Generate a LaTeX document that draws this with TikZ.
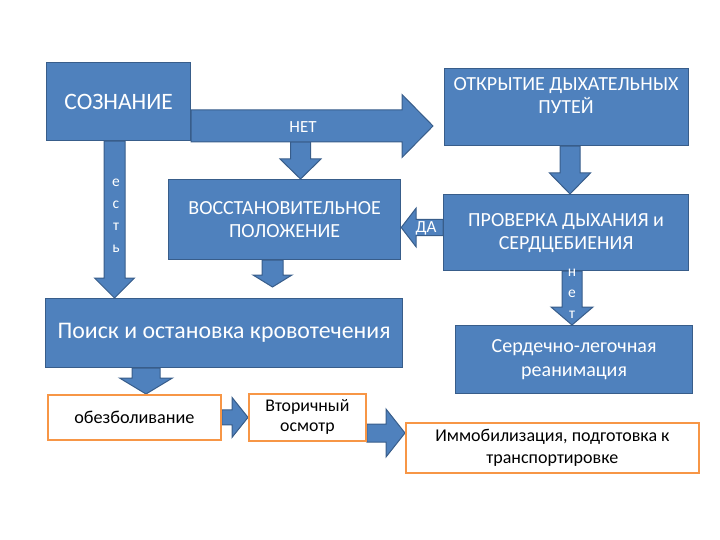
\documentclass[tikz,border=0pt]{standalone}
\usepackage{fontspec}
\setmainfont{Carlito}
\usetikzlibrary{calc,backgrounds}
\definecolor{bfill}{HTML}{4F81BD}
\definecolor{bline}{HTML}{385D8A}
\definecolor{oline}{HTML}{F79646}
\newcommand\fsz[2]{\fontsize{#1}{#2}\selectfont}
% block arrow: [opts]{start}{end}{shaft half}{head half}{head length}
\newcommand\blockarr[6][]{%
  \coordinate (bab) at ($(#3)!#6!(#2)$);
  \draw[barrow,#1] ($(#2)!#4!90:(#3)$) -- ($(bab)!#4!90:(#3)$) -- ($(bab)!#5!90:(#3)$) -- (#3)
     -- ($(bab)!#5!-90:(#3)$) -- ($(bab)!#4!-90:(#3)$) -- ($(#2)!#4!-90:(#3)$) -- cycle;}
\begin{document}
\begin{tikzpicture}[x=1pt,y=-1pt,
  bbox/.style={draw=bline, line width=1.2pt, fill=bfill, text=white, anchor=north west, inner sep=0pt, align=center},
  wbox/.style={draw=oline, line width=1.8pt, fill=white, text=black, anchor=north west, inner sep=0pt, align=center},
  barrow/.style={draw=bline, line width=1pt, fill=bfill, line join=miter},
  wlab/.style={text=white, inner sep=0pt, align=center}]
\useasboundingbox (0,0) rectangle (720,540);
% boxes
\node[bbox, minimum width=144, minimum height=78, font=\fsz{23.5}{26}] (soz) at (46,62) {СОЗНАНИЕ};
\node[bbox, minimum width=244, minimum height=77] (otk) at (444,68) {};
\node[wlab, font=\fsz{20}{23}] (otkT) at (566,95.5) {ОТКРЫТИЕ ДЫХАТЕЛЬНЫХ\\ПУТЕЙ};
\node[bbox, minimum width=232, minimum height=80, font=\fsz{20}{23}] (vos) at (168,179) {ВОССТАНОВИТЕЛЬНОЕ\\ПОЛОЖЕНИЕ};
\node[bbox, minimum width=245, minimum height=76, font=\fsz{20}{23}] (prov) at (443,194) {ПРОВЕРКА ДЫХАНИЯ и\\СЕРДЦЕБИЕНИЯ};
\node[bbox, minimum width=357, minimum height=69, font=\fsz{23.8}{26}] (poisk) at (45,298) {Поиск и остановка кровотечения};
\node[bbox, minimum width=237, minimum height=68, font=\fsz{20}{24}] (serd) at (455,325) {Сердечно-легочная\\реанимация};
\node[wbox, minimum width=173, minimum height=45, font=\fsz{18.2}{20}] (obez) at (47,394) {обезболивание};
\node[wbox, minimum width=117, minimum height=47, font=\fsz{17.8}{20}] (vtor) at (248,393) {Вторичный\\осмотр};
\node[wbox, minimum width=293, minimum height=50, font=\fsz{18}{22}] (immob) at (405,422) {Иммобилизация, подготовка к\\транспортировке};
% helper coordinates
\coordinate (xEst) at (114.5,0);
\coordinate (xNetD) at (300.5,0);
\coordinate (xOtk) at (570,0);
\coordinate (xVos) at (272.5,0);
\coordinate (xNetS) at (572,0);
\coordinate (xPoisk) at (146,0);
\coordinate (yNet) at (0,126);
\coordinate (yDa) at (0,227.5);
\coordinate (yV) at (0,433);
\coordinate (netTip) at (433,126);
\coordinate (netDs) at (300.5,142);
\coordinate (vosTip) at (272.5,287);
\begin{pgfonlayer}{background}
\coordinate (a1) at (soz.south -| xEst); \coordinate (b1) at (poisk.north -| xEst);
\blockarr{a1}{b1}{10.5pt}{20pt}{20pt}
\coordinate (b2) at (vos.north -| xNetD);
\blockarr{netDs}{b2}{10pt}{20.5pt}{20pt}
\coordinate (a3) at (soz.east |- yNet);
\blockarr{a3}{netTip}{16pt}{31.5pt}{31pt}
\coordinate (a4) at (otk.south -| xOtk); \coordinate (b4) at (prov.north -| xOtk);
\blockarr{a4}{b4}{10pt}{20.5pt}{21pt}
\coordinate (a5) at (prov.west |- yDa); \coordinate (b5) at (vos.east |- yDa);
\blockarr{a5}{b5}{8pt}{19.5pt}{15pt}
\coordinate (a6) at (vos.south -| xVos);
\blockarr{a6}{vosTip}{10.5pt}{19.5pt}{12pt}
\coordinate (a7) at (prov.south -| xNetS); \coordinate (b7) at (serd.north -| xNetS);
\blockarr{a7}{b7}{10pt}{21pt}{18pt}
\coordinate (a8) at (poisk.south -| xPoisk); \coordinate (b8) at (obez.north -| xPoisk);
\blockarr{a8}{b8}{14pt}{26.5pt}{16pt}
\blockarr{obez.east}{vtor.west}{7.5pt}{20pt}{16pt}
\coordinate (a10) at (vtor.east |- yV); \coordinate (b10) at (immob.west |- yV);
\blockarr{a10}{b10}{9pt}{24pt}{19pt}
\end{pgfonlayer}
% labels on arrows
\node[wlab, font=\fsz{17}{20}] (netL) at (303,127) {НЕТ};
\node[wlab, font=\fsz{17}{20}] (daL) at (426,228) {ДА};
\node[wlab, font=\fsz{15.5}{22}] (estL) at (116,216) {е\\с\\т\\ь};
\node[wlab, font=\fsz{15.5}{21}] (netS) at (572,294) {н\\е\\т};
\end{tikzpicture}
\end{document}
